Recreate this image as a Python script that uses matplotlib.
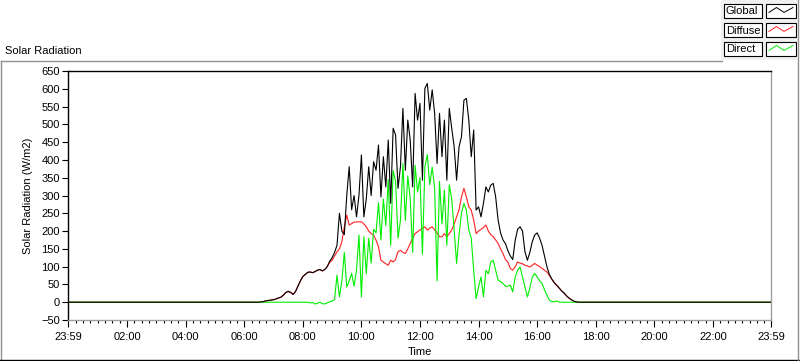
import numpy as np
import matplotlib.pyplot as plt
from matplotlib.patches import Rectangle

plt.rcParams['font.family'] = ['Liberation Sans', 'DejaVu Sans']
plt.rcParams['font.size'] = 8

# readings every 5 minutes from 06:00 to 17:55, one row per hour (W/m2)
t_first = 6.0
t_step = 5 / 60
global_rad = [
    0, 0, 0, 0, 0, 0, 0, 1, 2, 4, 5, 6,
    7, 9, 12, 14, 20, 27, 31, 28, 22, 30, 45, 60,
    72, 78, 84, 85, 83, 86, 90, 92, 88, 92, 100, 115,
    125, 140, 160, 250, 200, 190, 300, 381, 260, 300, 240, 300,
    414, 240, 290, 381, 300, 395, 371, 442, 296, 409, 324, 456,
    278, 489, 470, 320, 381, 545, 371, 512, 456, 324, 587, 512,
    559, 343, 601, 615, 540, 597, 531, 390, 531, 409, 512, 343,
    545, 489, 437, 343, 437, 465, 568, 573, 512, 409, 484, 259,
    268, 240, 278, 324, 310, 329, 334, 296, 231, 195, 175, 165,
    145, 130, 120, 174, 205, 212, 200, 142, 118, 140, 170, 189,
    195, 180, 160, 130, 100, 78, 65, 55, 48, 40, 32, 26,
    18, 12, 7, 3, 1, 0, 0, 0, 0, 0, 0, 0,
]
diffuse_rad = [
    0, 0, 0, 0, 0, 0, 0, 1, 2, 4, 5, 6,
    7, 9, 12, 14, 19, 27, 30, 27, 22, 30, 45, 60,
    72, 78, 84, 85, 83, 86, 90, 92, 88, 92, 100, 112,
    118, 130, 142, 150, 170, 212, 245, 217, 221, 225, 226, 226,
    226, 220, 212, 200, 193, 189, 174, 156, 118, 113, 108, 104,
    118, 113, 120, 142, 146, 140, 137, 150, 165, 180, 193, 198,
    203, 208, 212, 203, 208, 212, 203, 195, 184, 184, 193, 184,
    193, 203, 220, 240, 260, 296, 320, 296, 268, 259, 231, 193,
    200, 205, 210, 217, 200, 190, 184, 175, 165, 150, 137, 120,
    113, 95, 90, 100, 113, 110, 108, 104, 102, 99, 104, 109,
    104, 100, 95, 90, 85, 75, 65, 55, 47, 40, 32, 26,
    18, 12, 7, 3, 1, 0, 0, 0, 0, 0, 0, 0,
]
direct_rad = [
    0, 0, 0, 0, 0, 0, 0, 0, 0, 0, 0, 0,
    0, 0, 0, 0, 0, 0, 0, 0, 0, 0, 0, 0,
    0, 0, 0, -2, -1, -5, -3, 0, -4, -5, -2, 1,
    3, 8, 76, 15, 60, 140, 43, 60, 81, 45, 90, 189,
    15, 184, 80, 180, 110, 205, 195, 280, 175, 290, 215, 345,
    160, 370, 340, 180, 230, 390, 230, 355, 290, 140, 385, 310,
    350, 135, 380, 415, 330, 380, 320, 60, 340, 220, 315, 160,
    330, 290, 203, 109, 190, 250, 278, 259, 203, 180, 90, 10,
    43, 71, 15, 90, 80, 113, 118, 90, 62, 58, 53, 45,
    45, 48, 29, 71, 90, 99, 71, 43, 15, 40, 70, 81,
    71, 60, 53, 35, 20, 6, 2, 1, 4, 0, 0, 0,
    0, 0, 0, 0, 0, 0, 0, 0, 0, 0, 0, 0,
]
# the chart runs from 23:59 to 23:59, radiation is zero through the night
day_start = -1 / 60
day_end = 24 - 1 / 60
tick_hours = [day_start, 2, 4, 6, 8, 10, 12, 14, 16, 18, 20, 22, day_end]
tick_labels = ["23:59", "02:00", "04:00", "06:00", "08:00", "10:00", "12:00",
               "14:00", "16:00", "18:00", "20:00", "22:00", "23:59"]
series = [("Global", global_rad, "black"),
          ("Diffuse", diffuse_rad, "#ff2020"),
          ("Direct", direct_rad, "#00ee00")]

t = np.concatenate([[day_start], t_first + np.arange(len(global_rad)) * t_step, [day_end]])

fig = plt.figure(figsize=(8, 3.61), dpi=100)
W, H = 800, 361

# panel frame and legend drawn in pixel coordinates
ov = fig.add_axes([0, 0, 1, 1])
ov.set_xlim(0, W)
ov.set_ylim(H, 0)
ov.axis("off")
ov.plot([0.5, 722], [61, 61], color="#909090", lw=1)
ov.plot([0.5, 0.5], [61, H], color="#909090", lw=1)
ov.plot([0, W], [360, 360], color="black", lw=1)
ov.plot([797.5, 797.5], [0, H], color="#909090", lw=1)
ov.add_patch(Rectangle((721, 0), 76, 60, facecolor="#f0f0f0", edgecolor="none"))
ov.text(5, 51, "Solar Radiation", va="center", ha="left", fontsize=8)

zz_x = np.array([0.1, 0.35, 0.6, 0.9])
zz_y = np.array([0.4, 0.75, 0.4, 0.75])
for i, (name, _, color) in enumerate(series):
    y0 = 4 + i * 19
    ov.add_patch(Rectangle((724, y0), 38, 14, facecolor="white", edgecolor="black", lw=0.8))
    ov.text(726, y0 + 7.5, name, va="center", ha="left", fontsize=8)
    ov.add_patch(Rectangle((766, y0), 30, 14, facecolor="white", edgecolor="black", lw=0.8))
    ov.plot(766 + zz_x * 30, y0 + 14 - zz_y * 14, color=color, lw=0.7)

ax = fig.add_axes([68 / W, 1 - 320 / H, 703 / W, 249 / H])
# black is drawn last so it covers the others where they coincide
ax.plot(t, [0] + diffuse_rad + [0], color=series[1][2], lw=0.8, zorder=1)
ax.plot(t, [0] + direct_rad + [0], color=series[2][2], lw=0.8, zorder=2)
ax.plot(t, [0] + global_rad + [0], color=series[0][2], lw=0.8, zorder=3)

ax.set_xlim(day_start, day_end)
ax.set_ylim(-50, 650)
ax.set_yticks(np.arange(-50, 651, 50))
ax.set_xticks(tick_hours)
ax.set_xticklabels(tick_labels)
ax.set_xticks(np.arange(0.25, 24, 0.25), minor=True)
ax.tick_params(axis="x", which="major", length=5, width=0.8, pad=4, labelsize=8)
ax.tick_params(axis="x", which="minor", length=2.5, width=0.8)
ax.tick_params(axis="y", which="major", length=4, width=0.8, pad=2, labelsize=8)
for side, c in [("left", "black"), ("top", "black"), ("right", "#a0a0a0"), ("bottom", "#a0a0a0")]:
    ax.spines[side].set_color(c)
    ax.spines[side].set_linewidth(1)

ax.set_ylabel("Solar Radiation (W/m2)", fontsize=8)
ax.yaxis.set_label_coords(-0.05, 0.5)
ax.set_xlabel("Time", fontsize=8, va="center")
ax.xaxis.set_label_coords(0.5, -0.128)

fig.savefig("out.png", dpi=100)
